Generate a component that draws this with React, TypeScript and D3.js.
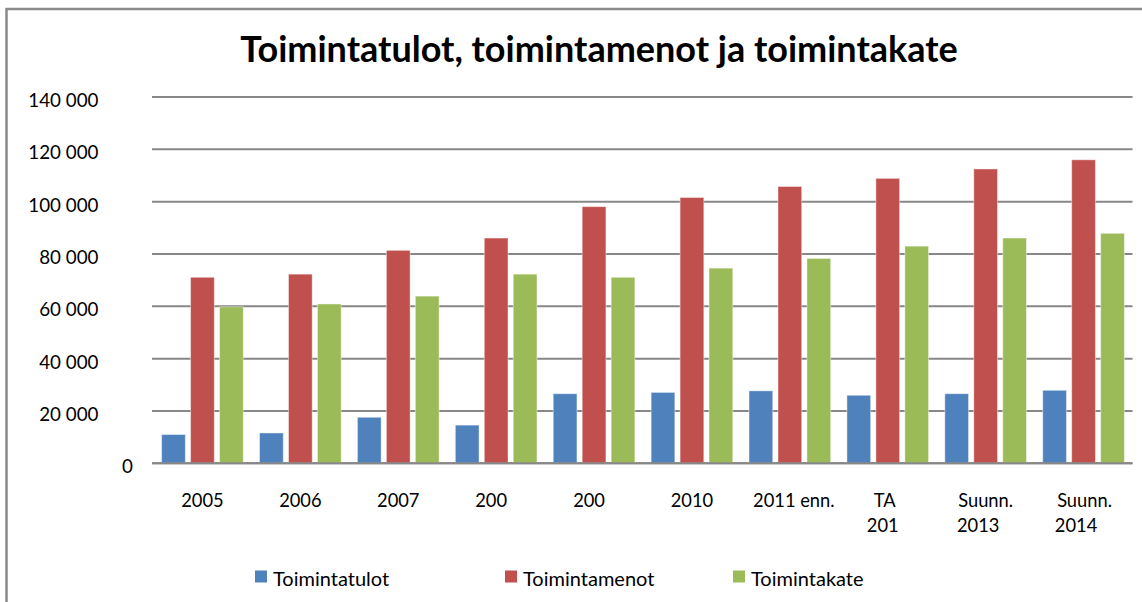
import React from "react";
import * as d3 from "d3";

const categories = ["2005", "2006", "2007", "2008", "2009", "2010", "2011 enn.", "TA 2012", "Suunn. 2013", "Suunn. 2014"];
// Category labels as they appear (wrapped / clipped in the original picture)
const categoryLabelLines: string[][] = [
  ["2005"], ["2006"], ["2007"], ["200"], ["200"], ["2010"], ["2011 enn."], ["TA", "201"], ["Suunn.", "2013"], ["Suunn.", "2014"],
];
const seriesNames = ["Toimintatulot", "Toimintamenot", "Toimintakate"];
const toimintatulot = [11000, 11600, 17600, 14600, 26600, 27100, 27700, 26000, 26600, 27900];
const toimintamenot = [71100, 72300, 81400, 86100, 98100, 101600, 105800, 108900, 112500, 116000];
const toimintakate = [59800, 60900, 63900, 72300, 71100, 74600, 78300, 83000, 86100, 87900];
const yTicks = [0, 20000, 40000, 60000, 80000, 100000, 120000, 140000];
const title = "Toimintatulot, toimintamenot ja toimintakate";

const colors = ["#4F81BD", "#C0504D", "#9BBB59"];
const seriesValues = [toimintatulot, toimintamenot, toimintakate];

// layout offsets for label lines (matching the picture's placement)
const labelDx: number[][] = [[0], [0], [0], [-5], [-5], [0], [4], [-3, -5], [0, -7.5], [1, -7.5]];
const legendX = [255, 505, 733];

const W = 1142;
const H = 602;
const plotLeft = 153.5;
const plotRight = 1132.5;
const yBottom = 463.3;
const yTop = 97;
const FONT = "Lato, 'Noto Sans', sans-serif";

export default function App() {
  const x0 = d3.scaleBand<string>().domain(categories).range([plotLeft, plotRight]).padding(0);
  const x1 = d3
    .scaleBand<string>()
    .domain(seriesNames)
    .range([0, x0.bandwidth()])
    .paddingInner(0.18)
    .paddingOuter(0.28);
  const y = d3.scaleLinear().domain([0, 140000]).range([yBottom, yTop]);
  const fmt = (v: number) => d3.format(",")(v).replace(/,/g, " ");

  return (
    <svg
      width={W}
      height={H}
      style={{ position: "absolute", left: 0, top: 0, background: "#fff" }}
      fontFamily={FONT}
    >
      <rect x={0} y={0} width={W} height={H} fill="#fff" />
      <rect x={6.5} y={9} width={W + 20} height={H + 20} fill="none" stroke="#8a8a8a" strokeWidth={2.5} />
      <text x={599} y={62} textAnchor="middle" fontSize={36} fontWeight="bold" fill="#000">
        {title}
      </text>
      {/* gridlines */}
      {yTicks.map((t) => (
        <line key={t} x1={152} x2={plotRight} y1={y(t)} y2={y(t)} stroke="#878787" strokeWidth={2} />
      ))}
      {/* y tick labels */}
      {yTicks.map((t) => (
        <text
          key={"l" + t}
          x={t === 0 ? 133 : 98.5}
          y={y(t) + 10}
          textAnchor="end"
          fontSize={18.8}
          fill="#000"
        >
          {fmt(t)}
        </text>
      ))}
      {/* bars */}
      {categories.map((c, i) => (
        <g key={c} transform={`translate(${x0(c)},0)`}>
          {seriesNames.map((s, j) => {
            const v = seriesValues[j][i];
            return (
              <rect
                key={s}
                x={x1(s)}
                y={y(v)}
                width={x1.bandwidth()}
                height={yBottom - y(v)}
                fill={colors[j]}
                stroke="#ffffff"
                strokeOpacity={0.45}
                strokeWidth={1}
              />
            );
          })}
        </g>
      ))}
      {/* baseline */}
      <line x1={152} x2={plotRight} y1={yBottom} y2={yBottom} stroke="#878787" strokeWidth={2} />
      {/* category labels */}
      {categories.map((c, i) => (
        <g key={"c" + c}>
          {categoryLabelLines[i].map((ln, k) => (
            <text
              key={k}
              x={(x0(c) as number) + x0.bandwidth() / 2 + labelDx[i][k]}
              y={506.5 + k * 25}
              textAnchor="middle"
              fontSize={18.3}
              fill="#000"
            >
              {ln}
            </text>
          ))}
        </g>
      ))}
      {/* legend */}
      {seriesNames.map((s, j) => (
        <g key={"lg" + s}>
          <rect x={legendX[j]} y={570.5} width={12} height={12} fill={colors[j]} />
          <text x={legendX[j] + 18} y={585.5} fontSize={20} fill="#000">
            {s}
          </text>
        </g>
      ))}
    </svg>
  );
}
